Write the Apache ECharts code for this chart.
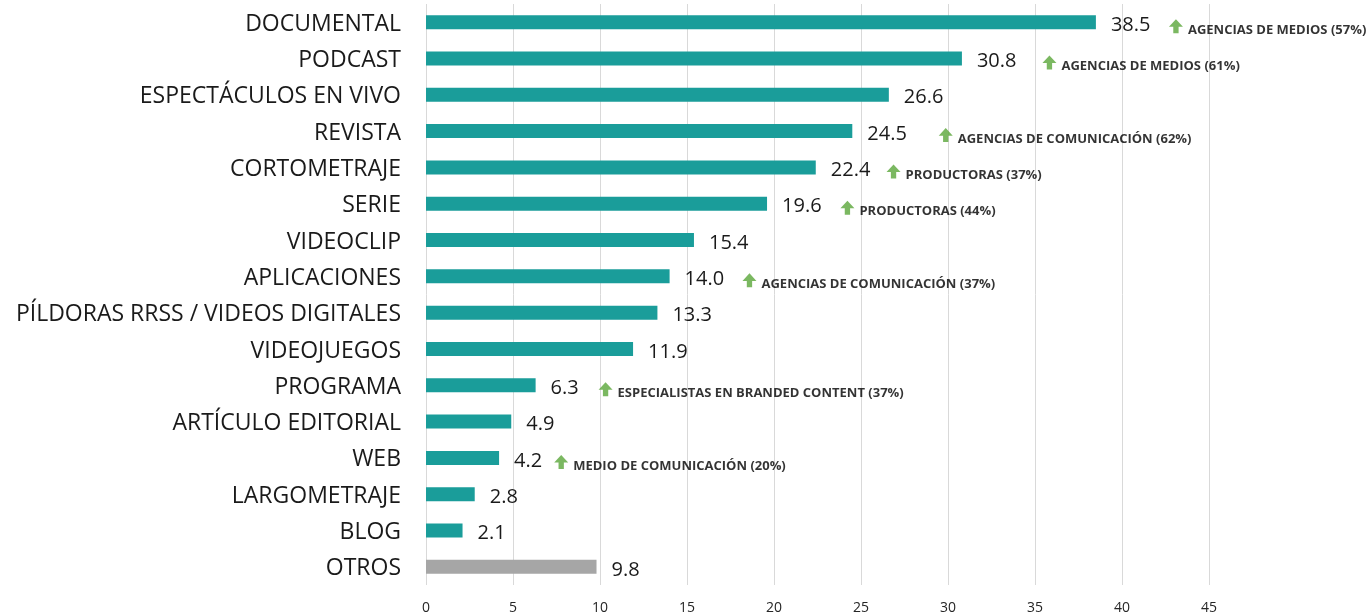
<!DOCTYPE html>
<html>
<head>
<meta charset="utf-8">
<script src="https://cdn.jsdelivr.net/npm/echarts@6/dist/echarts.min.js"></script>
<style>
  html, body { margin: 0; padding: 0; background: #fff; }
  #chart { width: 1369px; height: 616px; }
</style>
</head>
<body>
<div id="chart"></div>
<script>
const categories = [
  "DOCUMENTAL", "PODCAST", "ESPECTÁCULOS EN VIVO", "REVISTA", "CORTOMETRAJE",
  "SERIE", "VIDEOCLIP", "APLICACIONES", "PÍLDORAS RRSS / VIDEOS DIGITALES",
  "VIDEOJUEGOS", "PROGRAMA", "ARTÍCULO EDITORIAL", "WEB", "LARGOMETRAJE", "BLOG", "OTROS"
];
const values = [38.5, 30.8, 26.6, 24.5, 22.4, 19.6, 15.4, 14.0, 13.3, 11.9, 6.3, 4.9, 4.2, 2.8, 2.1, 9.8];
const highlightCategory = "OTROS";

// notes shown next to some bars, x = where the arrow sits on the value axis
const noteCategories = ["DOCUMENTAL", "PODCAST", "REVISTA", "CORTOMETRAJE", "SERIE", "APLICACIONES", "PROGRAMA", "WEB"];
const noteX = [43.1, 35.83, 29.87, 26.87, 24.22, 18.59, 10.32, 7.77];
const noteTexts = [
  "AGENCIAS DE MEDIOS (57%)",
  "AGENCIAS DE MEDIOS (61%)",
  "AGENCIAS DE COMUNICACIÓN (62%)",
  "PRODUCTORAS (37%)",
  "PRODUCTORAS (44%)",
  "AGENCIAS DE COMUNICACIÓN (37%)",
  "ESPECIALISTAS EN BRANDED CONTENT (37%)",
  "MEDIO DE COMUNICACIÓN (20%)"
];

const TEAL = "#1a9d9a";
const GREY = "#a6a6a6";
const FONT = "'Open Sans', 'Noto Sans', sans-serif";

const chart = echarts.init(document.getElementById("chart"));

chart.setOption({
  animation: false,
  backgroundColor: "#fff",
  grid: { left: 426, right: 160, top: 4, bottom: 31 },
  xAxis: {
    type: "value",
    min: 0,
    max: 45,
    interval: 5,
    axisLine: { show: false },
    axisTick: { show: false },
    axisLabel: { color: "#262626", fontSize: 14, fontFamily: FONT, margin: 16 },
    splitLine: { lineStyle: { color: "#d9d9d9", width: 1 } },
  },
  yAxis: {
    type: "category",
    inverse: true,
    data: categories,
    axisLine: { show: false },
    axisTick: { show: false },
    axisLabel: {
      margin: 25,
      formatter: (v) => "{c|" + v + "}",
      rich: {
        c: { color: "#1a1a1a", fontSize: 23, fontFamily: FONT, padding: [4, 0, 0, 0] },
      },
    },
  },
  series: [
    {
      type: "bar",
      barWidth: 14,
      data: values.map((v, i) => ({
        value: v,
        itemStyle: { color: categories[i] === highlightCategory ? GREY : TEAL },
      })),
      label: {
        show: true,
        position: "right",
        distance: 15,
        offset: [0, 3],
        color: "#1a1a1a",
        fontSize: 20,
        fontFamily: FONT,
        formatter: (p) => p.value.toFixed(1),
      },
    },
    {
      type: "scatter",
      symbol: "path://M5,0 L10,5.4 L6.9,5.4 L6.9,10 L3.1,10 L3.1,5.4 L0,5.4 Z",
      symbolSize: [14, 14],
      symbolOffset: [0, 4],
      itemStyle: { color: "#5aa63a" },
      data: noteCategories.map((c, i) => [noteX[i], c]),
      label: {
        show: true,
        position: "right",
        distance: 5,
        offset: [0, 4],
        color: "#000",
        fontSize: 13,
        fontWeight: "bold",
        fontFamily: FONT,
        formatter: (p) => noteTexts[p.dataIndex],
      },
    },
  ],
});
</script>
</body>
</html>
